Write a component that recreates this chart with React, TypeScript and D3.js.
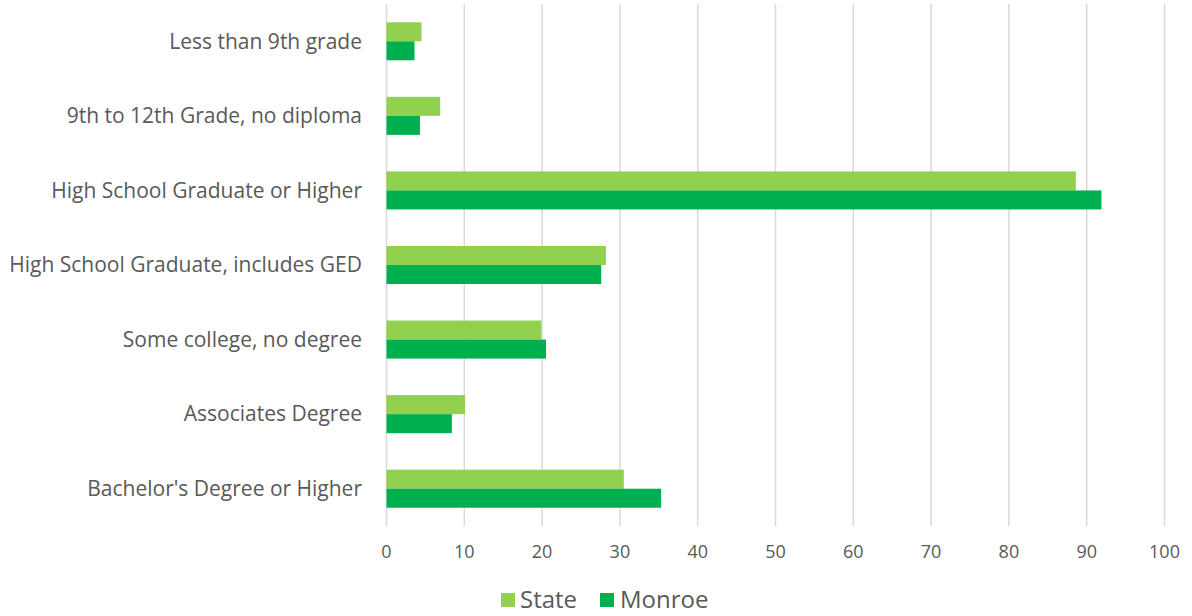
import React from "react";
import * as d3 from "d3";

const categories = [
  "Less than 9th grade",
  "9th to 12th Grade, no diploma",
  "High School Graduate or Higher",
  "High School Graduate, includes GED",
  "Some college, no degree",
  "Associates Degree",
  "Bachelor's Degree or Higher",
];
const stateValues = [4.5, 6.9, 88.6, 28.2, 19.9, 10.1, 30.5];
const monroeValues = [3.6, 4.3, 91.9, 27.6, 20.5, 8.4, 35.3];
const seriesNames = ["State", "Monroe"];
const xTicks = [0, 10, 20, 30, 40, 50, 60, 70, 80, 90, 100];

const W = 1192;
const H = 616;
const left = 386.5;
const right = 1164.5;
const top = 4;
const bottom = 526;
const colors = ["#92D050", "#00B050"];
const font = "'Open Sans', 'Noto Sans', sans-serif";

export default function App() {
  const x = d3.scaleLinear().domain([0, 100]).range([left, right]);
  const y = d3.scaleBand<string>().domain(categories).range([top, bottom]).paddingInner(0.49).paddingOuter(0.245);
  const sub = d3.scaleBand<string>().domain(seriesNames).range([0, y.bandwidth()]);
  const series = [stateValues, monroeValues];
  return (
    <svg width={W} height={H} style={{ position: "absolute", left: 0, top: 0, background: "#fff" }}>
      {xTicks.map((t) => (
        <g key={t}>
          <line x1={x(t)} x2={x(t)} y1={top} y2={bottom} stroke="#d9d9d9" strokeWidth={1.5} />
          <text x={x(t)} y={558} textAnchor="middle" fontSize={18} fill="#595959" fontFamily={font}>
            {t}
          </text>
        </g>
      ))}
      {categories.map((c, i) => (
        <g key={c}>
          {series.map((vals, s) => (
            <rect
              key={s}
              x={x(0)}
              y={(y(c) as number) + (sub(seriesNames[s]) as number)}
              width={x(vals[i]) - x(0)}
              height={sub.bandwidth()}
              fill={colors[s]}
            />
          ))}
          <text
            x={362}
            y={(y(c) as number) + y.bandwidth() / 2}
            dy="0.35em"
            textAnchor="end"
            fontSize={21}
            fill="#595959"
            fontFamily={font}
          >
            {c}
          </text>
        </g>
      ))}
      <g>
        <rect x={501} y={593} width={14} height={14} fill={colors[0]} />
        <text x={520} y={608} fontSize={24} fill="#595959" fontFamily={font}>State</text>
        <rect x={600} y={593} width={14} height={14} fill={colors[1]} />
        <text x={620} y={608} fontSize={24} fill="#595959" fontFamily={font}>Monroe</text>
      </g>
    </svg>
  );
}
